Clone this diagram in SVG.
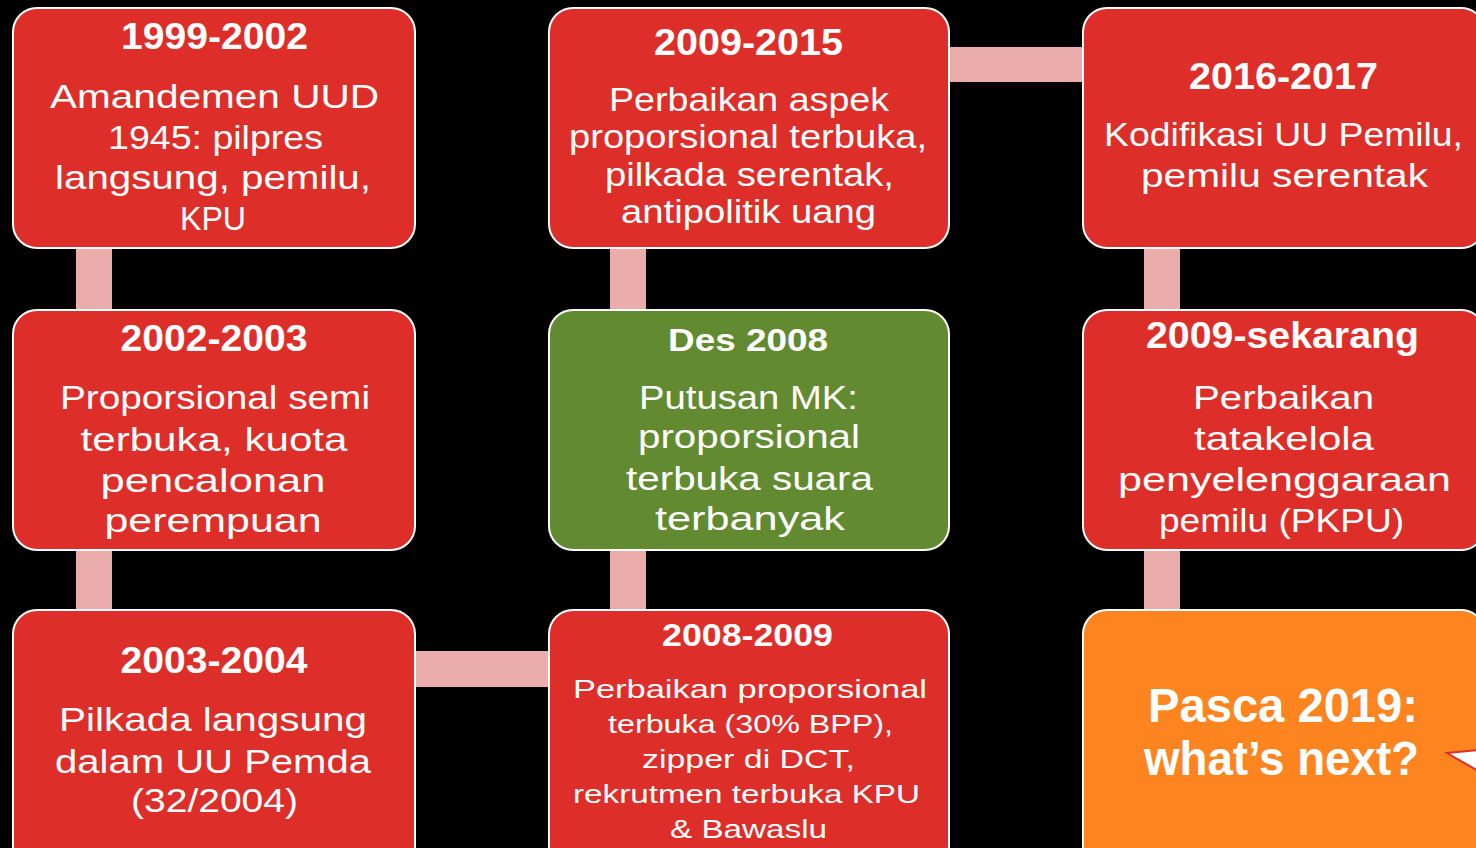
<svg xmlns="http://www.w3.org/2000/svg" width="1476" height="848" viewBox="0 0 1476 848">
<style>
.box{stroke:#FFFFFF;stroke-width:2}
.red{fill:#DE2E29}
.green{fill:#628A31}
.orange{fill:#FD841E}
.bar{fill:#EBACAC}
text{fill:#FFFFFF;font-family:"Liberation Sans",Arial,sans-serif;text-anchor:middle}
.t{font-weight:bold;font-size:37px}
.b{font-size:34px}
.s{font-size:26px}
.st{font-weight:bold;font-size:32px}
.o{font-weight:bold;font-size:48px}
</style>
<rect x="0" y="0" width="1476" height="848" fill="#000000"/>
<g id="connectors">
<rect class="bar" x="76" y="246" width="36" height="66"/>
<rect class="bar" x="76" y="548" width="36" height="64"/>
<rect class="bar" x="413" y="651" width="138" height="36"/>
<rect class="bar" x="610" y="548" width="36" height="64"/>
<rect class="bar" x="610" y="246" width="36" height="66"/>
<rect class="bar" x="947" y="47" width="138" height="35"/>
<rect class="bar" x="1144" y="246" width="36" height="66"/>
<rect class="bar" x="1144" y="548" width="36" height="64"/>
</g>
<g id="node-1999-2002">
<rect class="box red" x="13" y="8" width="402" height="240" rx="24"/>
<text class="t" x="214.5" y="49" textLength="187" lengthAdjust="spacingAndGlyphs">1999-2002</text>
<text class="b" x="214.5" y="108" textLength="329" lengthAdjust="spacingAndGlyphs">Amandemen UUD</text>
<text class="b" x="215.5" y="149" textLength="215" lengthAdjust="spacingAndGlyphs">1945: pilpres</text>
<text class="b" x="213" y="189" textLength="316" lengthAdjust="spacingAndGlyphs">langsung, pemilu,</text>
<text class="b" x="213" y="230" textLength="66" lengthAdjust="spacingAndGlyphs">KPU</text>
</g>
<g id="node-2002-2003">
<rect class="box red" x="13" y="310" width="402" height="240" rx="24"/>
<text class="t" x="214" y="351" textLength="187" lengthAdjust="spacingAndGlyphs">2002-2003</text>
<text class="b" x="215" y="409" textLength="310" lengthAdjust="spacingAndGlyphs">Proporsional semi</text>
<text class="b" x="214" y="451" textLength="267" lengthAdjust="spacingAndGlyphs">terbuka, kuota</text>
<text class="b" x="213" y="492" textLength="225" lengthAdjust="spacingAndGlyphs">pencalonan</text>
<text class="b" x="213" y="532" textLength="217" lengthAdjust="spacingAndGlyphs">perempuan</text>
</g>
<g id="node-2003-2004">
<rect class="box red" x="13" y="610" width="402" height="260" rx="24"/>
<text class="t" x="214" y="673" textLength="187" lengthAdjust="spacingAndGlyphs">2003-2004</text>
<text class="b" x="213" y="731" textLength="308" lengthAdjust="spacingAndGlyphs">Pilkada langsung</text>
<text class="b" x="213" y="773" textLength="316" lengthAdjust="spacingAndGlyphs">dalam UU Pemda</text>
<text class="b" x="214.5" y="812" textLength="167" lengthAdjust="spacingAndGlyphs">(32/2004)</text>
</g>
<g id="node-2009-2015">
<rect class="box red" x="549" y="8" width="400" height="240" rx="24"/>
<text class="t" x="748.5" y="55" textLength="189" lengthAdjust="spacingAndGlyphs">2009-2015</text>
<text class="b" x="749" y="111" textLength="280" lengthAdjust="spacingAndGlyphs">Perbaikan aspek</text>
<text class="b" x="748" y="148" textLength="358" lengthAdjust="spacingAndGlyphs">proporsional terbuka,</text>
<text class="b" x="749.5" y="186" textLength="289" lengthAdjust="spacingAndGlyphs">pilkada serentak,</text>
<text class="b" x="748.5" y="223" textLength="255" lengthAdjust="spacingAndGlyphs">antipolitik uang</text>
</g>
<g id="node-des-2008">
<rect class="box green" x="549" y="310" width="400" height="240" rx="24"/>
<text class="st" x="748" y="351" textLength="160" lengthAdjust="spacingAndGlyphs">Des 2008</text>
<text class="b" x="748.5" y="409" textLength="219" lengthAdjust="spacingAndGlyphs">Putusan MK:</text>
<text class="b" x="749" y="448" textLength="222" lengthAdjust="spacingAndGlyphs">proporsional</text>
<text class="b" x="749.5" y="490" textLength="247" lengthAdjust="spacingAndGlyphs">terbuka suara</text>
<text class="b" x="750" y="530" textLength="190" lengthAdjust="spacingAndGlyphs">terbanyak</text>
</g>
<g id="node-2008-2009">
<rect class="box red" x="549" y="610" width="400" height="260" rx="24"/>
<text class="st" x="747.5" y="646" textLength="171" lengthAdjust="spacingAndGlyphs">2008-2009</text>
<text class="s" x="750" y="698" textLength="354" lengthAdjust="spacingAndGlyphs">Perbaikan proporsional</text>
<text class="s" x="750.5" y="733" textLength="285" lengthAdjust="spacingAndGlyphs">terbuka (30% BPP),</text>
<text class="s" x="748.5" y="768" textLength="213" lengthAdjust="spacingAndGlyphs">zipper di DCT,</text>
<text class="s" x="746.5" y="803" textLength="347" lengthAdjust="spacingAndGlyphs">rekrutmen terbuka KPU</text>
<text class="s" x="748.5" y="838" textLength="157" lengthAdjust="spacingAndGlyphs">&amp; Bawaslu</text>
</g>
<g id="node-2016-2017">
<rect class="box red" x="1083" y="8" width="402" height="240" rx="24"/>
<text class="t" x="1283.5" y="89" textLength="189" lengthAdjust="spacingAndGlyphs">2016-2017</text>
<text class="b" x="1283.5" y="146" textLength="359" lengthAdjust="spacingAndGlyphs">Kodifikasi UU Pemilu,</text>
<text class="b" x="1284.5" y="187" textLength="287" lengthAdjust="spacingAndGlyphs">pemilu serentak</text>
</g>
<g id="node-2009-sekarang">
<rect class="box red" x="1083" y="310" width="402" height="240" rx="24"/>
<text class="t" x="1282.5" y="348" textLength="273" lengthAdjust="spacingAndGlyphs">2009-sekarang</text>
<text class="b" x="1283.5" y="409" textLength="181" lengthAdjust="spacingAndGlyphs">Perbaikan</text>
<text class="b" x="1284" y="450" textLength="180" lengthAdjust="spacingAndGlyphs">tatakelola</text>
<text class="b" x="1284.5" y="491" textLength="333" lengthAdjust="spacingAndGlyphs">penyelenggaraan</text>
<text class="b" x="1281.5" y="532" textLength="245" lengthAdjust="spacingAndGlyphs">pemilu (PKPU)</text>
</g>
<g id="node-pasca-2019">
<rect class="box orange" x="1083" y="610" width="402" height="260" rx="24"/>
<text class="o" x="1283" y="722" textLength="270" lengthAdjust="spacingAndGlyphs">Pasca 2019:</text>
<text class="o" x="1281.5" y="775" textLength="275" lengthAdjust="spacingAndGlyphs">what’s next?</text>
<polygon points="1447,753 1480,750 1480,772" fill="#FFFFFF" stroke="#D9302A" stroke-width="2"/>
</g>
</svg>
